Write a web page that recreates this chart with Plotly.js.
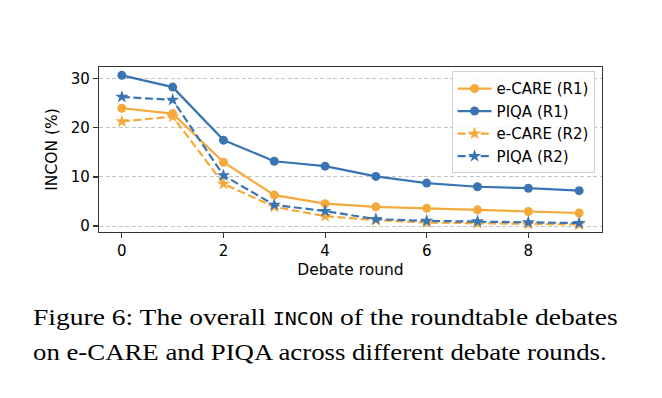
<!DOCTYPE html>
<html>
<head>
<meta charset="utf-8">
<script src="https://cdn.plot.ly/plotly-3.0.1.min.js"></script>
<style>html,body{margin:0;padding:0;background:#fff;}#chart{width:662px;height:398px;}</style>
</head>
<body>
<div id="chart"></div>
<script>
const rounds = [0, 1, 2, 3, 4, 5, 6, 7, 8, 9];
const ecareR1 = [24.0, 22.9, 13.0, 6.3, 4.55, 3.9, 3.6, 3.3, 2.95, 2.65];
const piqaR1 = [30.7, 28.3, 17.5, 13.2, 12.2, 10.1, 8.75, 8.0, 7.7, 7.2];
const ecareR2 = [21.3, 22.3, 8.6, 3.9, 2.0, 1.2, 0.7, 0.55, 0.4, 0.3];
const piqaR2 = [26.3, 25.7, 10.3, 4.3, 3.05, 1.4, 1.05, 0.95, 0.75, 0.6];
const seriesNames = ["e-CARE (R1)", "PIQA (R1)", "e-CARE (R2)", "PIQA (R2)"];
const yTicks = [0, 10, 20, 30];
const xTicks = [0, 2, 4, 6, 8];
const xTitle = "Debate round";
const yTitle = "INCON (%)";
const captionLine1 = 'Figure 6: The overall <span style="font-family:\'DejaVu Sans Mono\';font-size:17.5px">INCON</span> of the roundtable debates';
const captionLine2 = 'on e-CARE and PIQA across different debate rounds.';

const ORANGE = '#F5A93B';
const BLUE = '#3A74B3';
const DASH = '8px,3.6px';

function tr(y, name, color, sym, dash, msize) {
  return {
    x: rounds, y: y, name: name, type: 'scatter', mode: 'lines+markers',
    line: {color: color, width: 2.2, dash: dash},
    marker: {color: color, size: msize, symbol: sym, line: {width: 0}}
  };
}

const data = [
  tr(ecareR1, seriesNames[0], ORANGE, 'circle', 'solid', 9),
  tr(piqaR1, seriesNames[1], BLUE, 'circle', 'solid', 9),
  tr(ecareR2, seriesNames[2], ORANGE, 'star', DASH, 10),
  tr(piqaR2, seriesNames[3], BLUE, 'star', DASH, 10)
];

const L = 99.3, R = 601.7, T = 66.7, B = 231.7;
const W = 662, H = 398;
const pw = R - L, ph = B - T;
function px2x(p) { return (p - L) / pw; }
function py2y(p) { return (B - p) / ph; }

const layout = {
  width: W, height: H,
  margin: {l: L, r: W - R, t: T, b: H - B, pad: 0},
  paper_bgcolor: '#fff', plot_bgcolor: '#fff',
  font: {family: 'DejaVu Sans', size: 15, color: '#000'},
  showlegend: true,
  xaxis: {
    range: [-0.45, 9.45], tickvals: xTicks, showgrid: false, zeroline: false,
    showline: true, mirror: true, linecolor: '#333', linewidth: 1.2,
    ticks: 'outside', ticklen: 5, tickwidth: 1.2, tickcolor: '#333',
    tickfont: {size: 15},
    title: {text: xTitle, font: {size: 15.5}, standoff: 5}
  },
  yaxis: {
    range: [-1.22, 32.4], tickvals: yTicks, showgrid: true, gridcolor: '#c4c4c4',
    gridwidth: 1, griddash: '4px,2.5px', zeroline: false,
    showline: true, mirror: true, linecolor: '#333', linewidth: 1.2,
    ticks: 'outside', ticklen: 5, tickwidth: 1.2, tickcolor: '#333',
    tickfont: {size: 15},
    title: {text: yTitle, font: {size: 15.5}, standoff: 9}
  },
  legend: {
    x: px2x(594.3), xanchor: 'right', y: py2y(71), yanchor: 'top',
    bgcolor: 'rgba(255,255,255,0.85)', bordercolor: '#d0d0d0', borderwidth: 1,
    font: {size: 15}, tracegroupgap: 0, itemwidth: 34
  },
  annotations: [
    {xref: 'paper', yref: 'paper', x: px2x(31), y: py2y(316.5), xanchor: 'left', yanchor: 'middle',
     showarrow: false, align: 'left', text: captionLine1,
     font: {family: 'Liberation Serif', size: 24, color: '#000'}},
    {xref: 'paper', yref: 'paper', x: px2x(31), y: py2y(351.5), xanchor: 'left', yanchor: 'middle',
     showarrow: false, align: 'left', text: captionLine2,
     font: {family: 'Liberation Serif', size: 24, color: '#000'}}
  ]
};

// caption line extents in the reference (left edge, right edge), px
const captionLeft = 33;
const captionRight = [618, 607];

Plotly.newPlot('chart', data, layout, {displayModeBar: false, staticPlot: true}).then(function () {
  // the reference caption is set slightly wide; widen each caption line horizontally
  document.querySelectorAll('#chart text.annotation-text').forEach(function (t, i) {
    const bb = t.getBBox();
    const r = t.getBoundingClientRect();
    const sx = (captionRight[i] - captionLeft) / r.width;
    const dx = captionLeft - r.left;
    t.setAttribute('transform', 'translate(' + (bb.x * (1 - sx) + dx) + ',0) scale(' + sx + ',1)');
  });
});
</script>
</body>
</html>
